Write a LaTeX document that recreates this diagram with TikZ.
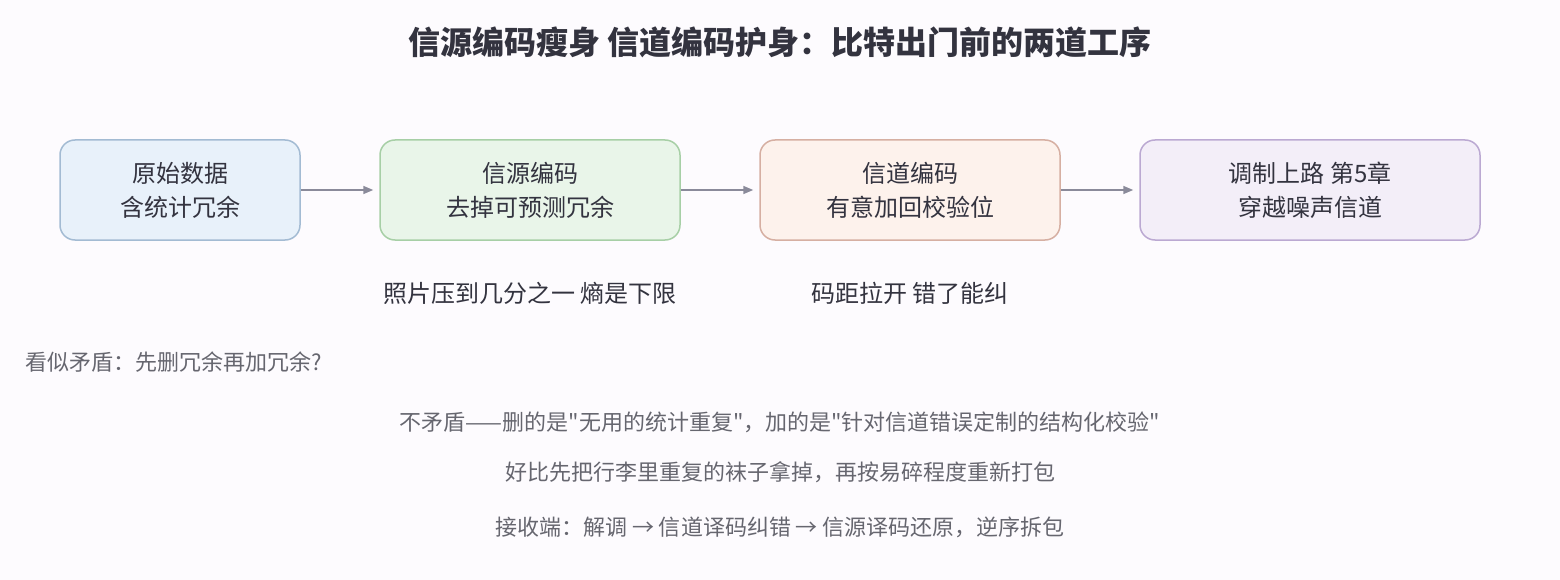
\documentclass[tikz,border=0pt]{standalone}
\usepackage{fontspec}
\setmainfont{Noto Sans CJK SC}[Ligatures=TeXOff]
\usetikzlibrary{arrows.meta}

\definecolor{bgcol}{HTML}{FDFBFE}
\definecolor{inkcol}{HTML}{33333F}
\definecolor{notecol}{HTML}{66666F}
\definecolor{arrowcol}{HTML}{8A8A9A}
\definecolor{rawfill}{HTML}{E8F1FA}\definecolor{rawdraw}{HTML}{A3BBD3}
\definecolor{srcfill}{HTML}{E9F5E9}\definecolor{srcdraw}{HTML}{A7CFA6}
\definecolor{chnfill}{HTML}{FDF2EC}\definecolor{chndraw}{HTML}{D6AFA2}
\definecolor{modfill}{HTML}{F3EEF8}\definecolor{moddraw}{HTML}{BBA9D2}

\tikzset{
    stagebox/.style={draw, line width=1.5pt, rounded corners=15pt, minimum height=100pt,
        align=center, text=inkcol, font=\fontsize{24}{34}\selectfont},
    flow/.style={-{Triangle[length=10pt,width=8pt]}, line width=1.5pt, draw=arrowcol,
        shorten >=6pt},
    note/.style={text=notecol, font=\fontsize{22}{26}\selectfont},
}

\begin{document}
\begin{tikzpicture}[x=1pt,y=-1pt]

        \fill[bgcol] (0,0) rectangle (1560,580);
        \useasboundingbox (0,0) rectangle (1560,580);

        % title
        \node[text=inkcol, font=\fontsize{32}{38}\selectfont\bfseries] (title) at (780,42)
            {信源编码瘦身 信道编码护身：比特出门前的两道工序};

        % the four stages
        \node[stagebox, fill=rawfill, draw=rawdraw, minimum width=240pt] (raw) at (180,190)
            {原始数据\\含统计冗余};
        \node[stagebox, fill=srcfill, draw=srcdraw, minimum width=300pt] (srccode) at (530,190)
            {信源编码\\去掉可预测冗余};
        \node[stagebox, fill=chnfill, draw=chndraw, minimum width=300pt] (chncode) at (910,190)
            {信道编码\\有意加回校验位};
        \node[stagebox, fill=modfill, draw=moddraw, minimum width=340pt] (modul) at (1310,190)
            {调制上路 第5章\\穿越噪声信道};

        \draw[flow] (raw.east) -- (srccode.west);
        \draw[flow] (srccode.east) -- (chncode.west);
        \draw[flow] (chncode.east) -- (modul.west);

        % captions under the two coders
        \node[text=inkcol, font=\fontsize{24}{28}\selectfont] (srcnote) at (530,293)
            {照片压到几分之一 熵是下限};
        \node[text=inkcol, font=\fontsize{24}{28}\selectfont] (chnnote) at (910,293)
            {码距拉开 错了能纠};

        % discussion
        \node[note, anchor=west] (question) at (22,362) {看似矛盾：先删冗余再加冗余?};
        \node[note] (answer) at (780,422)
            {不矛盾——删的是"无用的统计重复"，加的是"针对信道错误定制的结构化校验"};
        \node[note] (suitcase) at (780,472)
            {好比先把行李里重复的袜子拿掉，再按易碎程度重新打包};
        \node[note] (receiver) at (780,527)
            {接收端：解调 → 信道译码纠错 → 信源译码还原，逆序拆包};

    \end{tikzpicture}
\end{document}
